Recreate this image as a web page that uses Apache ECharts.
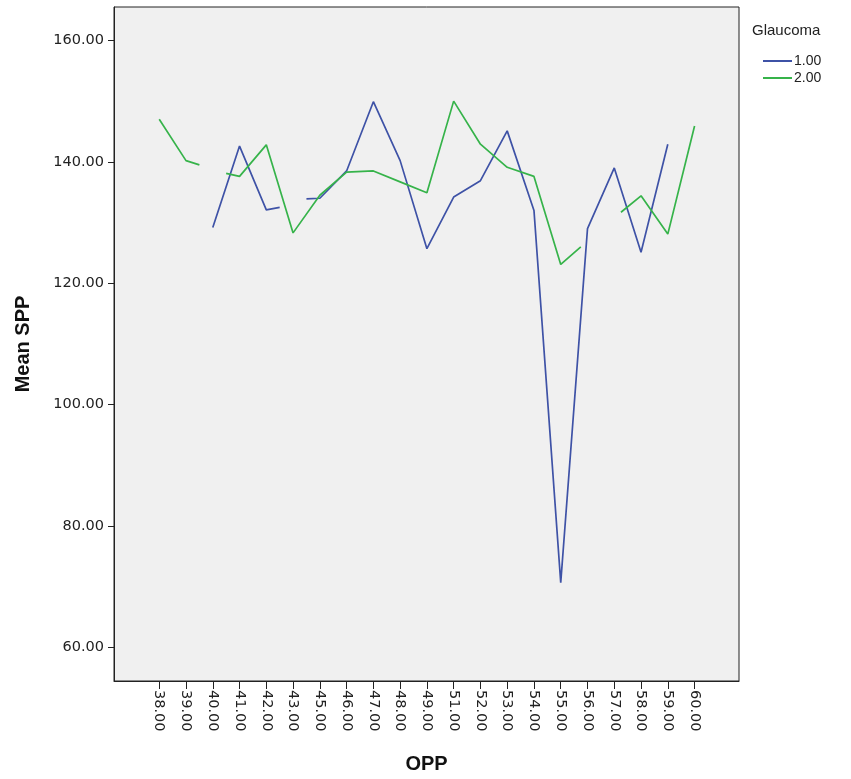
<!DOCTYPE html>
<html>
<head>
<meta charset="utf-8">
<script src="https://cdn.jsdelivr.net/npm/echarts@6/dist/echarts.min.js"></script>
<style>
html,body{margin:0;padding:0;background:#fff;}
#chart{width:851px;height:779px;}
</style>
</head>
<body>
<div id="chart"></div>
<script>
// Category labels of the OPP axis
const categories = ['38.00','39.00','40.00','41.00','42.00','43.00','45.00','46.00','47.00','48.00','49.00','51.00','52.00','53.00','54.00','55.00','56.00','57.00','58.00','59.00','60.00'];
// Y tick labels
const yTicks = [60, 80, 100, 120, 140, 160];
// Mean SPP per category, Glaucoma = 1.00 (null = no value)
const glaucoma1 = [null, null, 129.2, 142.6, 132.1, null, 134.0, 138.5, 149.9, 140.2, 125.7, 134.2, 136.9, 145.1, 132.0, 70.7, 129.0, 139.0, 125.1, 142.9, null];
// Mean SPP per category, Glaucoma = 2.00
const glaucoma2 = [147.0, 140.2, null, 137.6, 142.8, 128.3, 134.5, 138.3, 138.5, 136.7, 134.9, 150.0, 142.9, 139.1, 137.6, 123.1, null, null, 134.4, 128.1, 145.9];
// Visible ends of the short line pieces drawn across missing categories (category index, value)
const gaps1 = [[[4.5, 132.5], [5.5, 133.9]]];
const gaps2 = [[[1.5, 139.5], [2.5, 138.1]], [[15.75, 126.0], [17.25, 131.7]]];

function buildData(values, gaps) {
  const pts = [];
  values.forEach((v, i) => { if (v != null) pts.push({x: i, y: v}); });
  gaps.forEach(g => {
    pts.push({x: g[0][0], y: g[0][1]});
    pts.push({x: (g[0][0] + g[1][0]) / 2, y: null});
    pts.push({x: g[1][0], y: g[1][1]});
  });
  pts.sort((a, b) => a.x - b.x);
  return pts.map(p => p.y == null ? [p.x, '-'] : [p.x, p.y]);
}

const catIdx = categories.map((c, i) => i);
const chart = echarts.init(document.getElementById('chart'), null, {renderer: 'canvas'});
const font = 'Arial, "Liberation Sans", sans-serif';
const tickFont = '"DejaVu Sans", sans-serif';

chart.setOption({
  animation: false,
  backgroundColor: '#ffffff',
  title: {
    text: 'Glaucoma',
    left: 752, top: 23, padding: 0,
    textStyle: {fontFamily: font, fontSize: 15, fontWeight: 'normal', color: '#222'}
  },
  legend: {
    orient: 'vertical',
    left: 763, top: 54, padding: 0,
    itemWidth: 29, itemHeight: 2, itemGap: 3,
    icon: 'rect',
    textStyle: {fontFamily: font, fontSize: 14, color: '#222', lineHeight: 14, padding: [0,0,0,-3]},
    data: ['1.00', '2.00']
  },
  grid: {
    left: 114, right: 112, top: 7, bottom: 95,
    show: true, backgroundColor: '#f0f0f0', borderColor: '#222', borderWidth: 1
  },
  xAxis: {
    type: 'value',
    min: -1.69, max: 21.66,
    name: 'OPP', nameLocation: 'middle', nameGap: 73,
    nameTextStyle: {fontFamily: font, fontSize: 20, fontWeight: 'bold', color: '#111'},
    axisLine: {show: true, onZero: false, lineStyle: {color: '#222', width: 1}},
    axisTick: {show: true, length: 8, customValues: catIdx, lineStyle: {color: '#222'}},
    axisLabel: {
      customValues: catIdx, rotate: -90, margin: 9,
      fontFamily: tickFont, fontSize: 14.5, color: '#222',
      formatter: v => categories[Math.round(v)]
    },
    splitLine: {show: false}
  },
  yAxis: {
    type: 'value',
    min: 54.5, max: 165.5,
    name: 'Mean SPP', nameLocation: 'middle', nameGap: 81, nameRotate: 90,
    nameTextStyle: {fontFamily: font, fontSize: 20, fontWeight: 'bold', color: '#111'},
    axisLine: {show: true, onZero: false, lineStyle: {color: '#222', width: 1}},
    axisTick: {show: true, length: 6, customValues: yTicks, lineStyle: {color: '#222'}},
    axisLabel: {
      customValues: yTicks, margin: 10,
      fontFamily: tickFont, fontSize: 14.5, color: '#222',
      formatter: v => Number(v).toFixed(2)
    },
    splitLine: {show: false}
  },
  series: [
    {
      name: '1.00', type: 'line', showSymbol: false, connectNulls: false,
      color: '#3e52a6', lineStyle: {width: 1.7, color: '#3e52a6'},
      data: buildData(glaucoma1, gaps1)
    },
    {
      name: '2.00', type: 'line', showSymbol: false, connectNulls: false,
      color: '#36b34a', lineStyle: {width: 1.7, color: '#36b34a'},
      data: buildData(glaucoma2, gaps2)
    }
  ]
});
</script>
</body>
</html>
